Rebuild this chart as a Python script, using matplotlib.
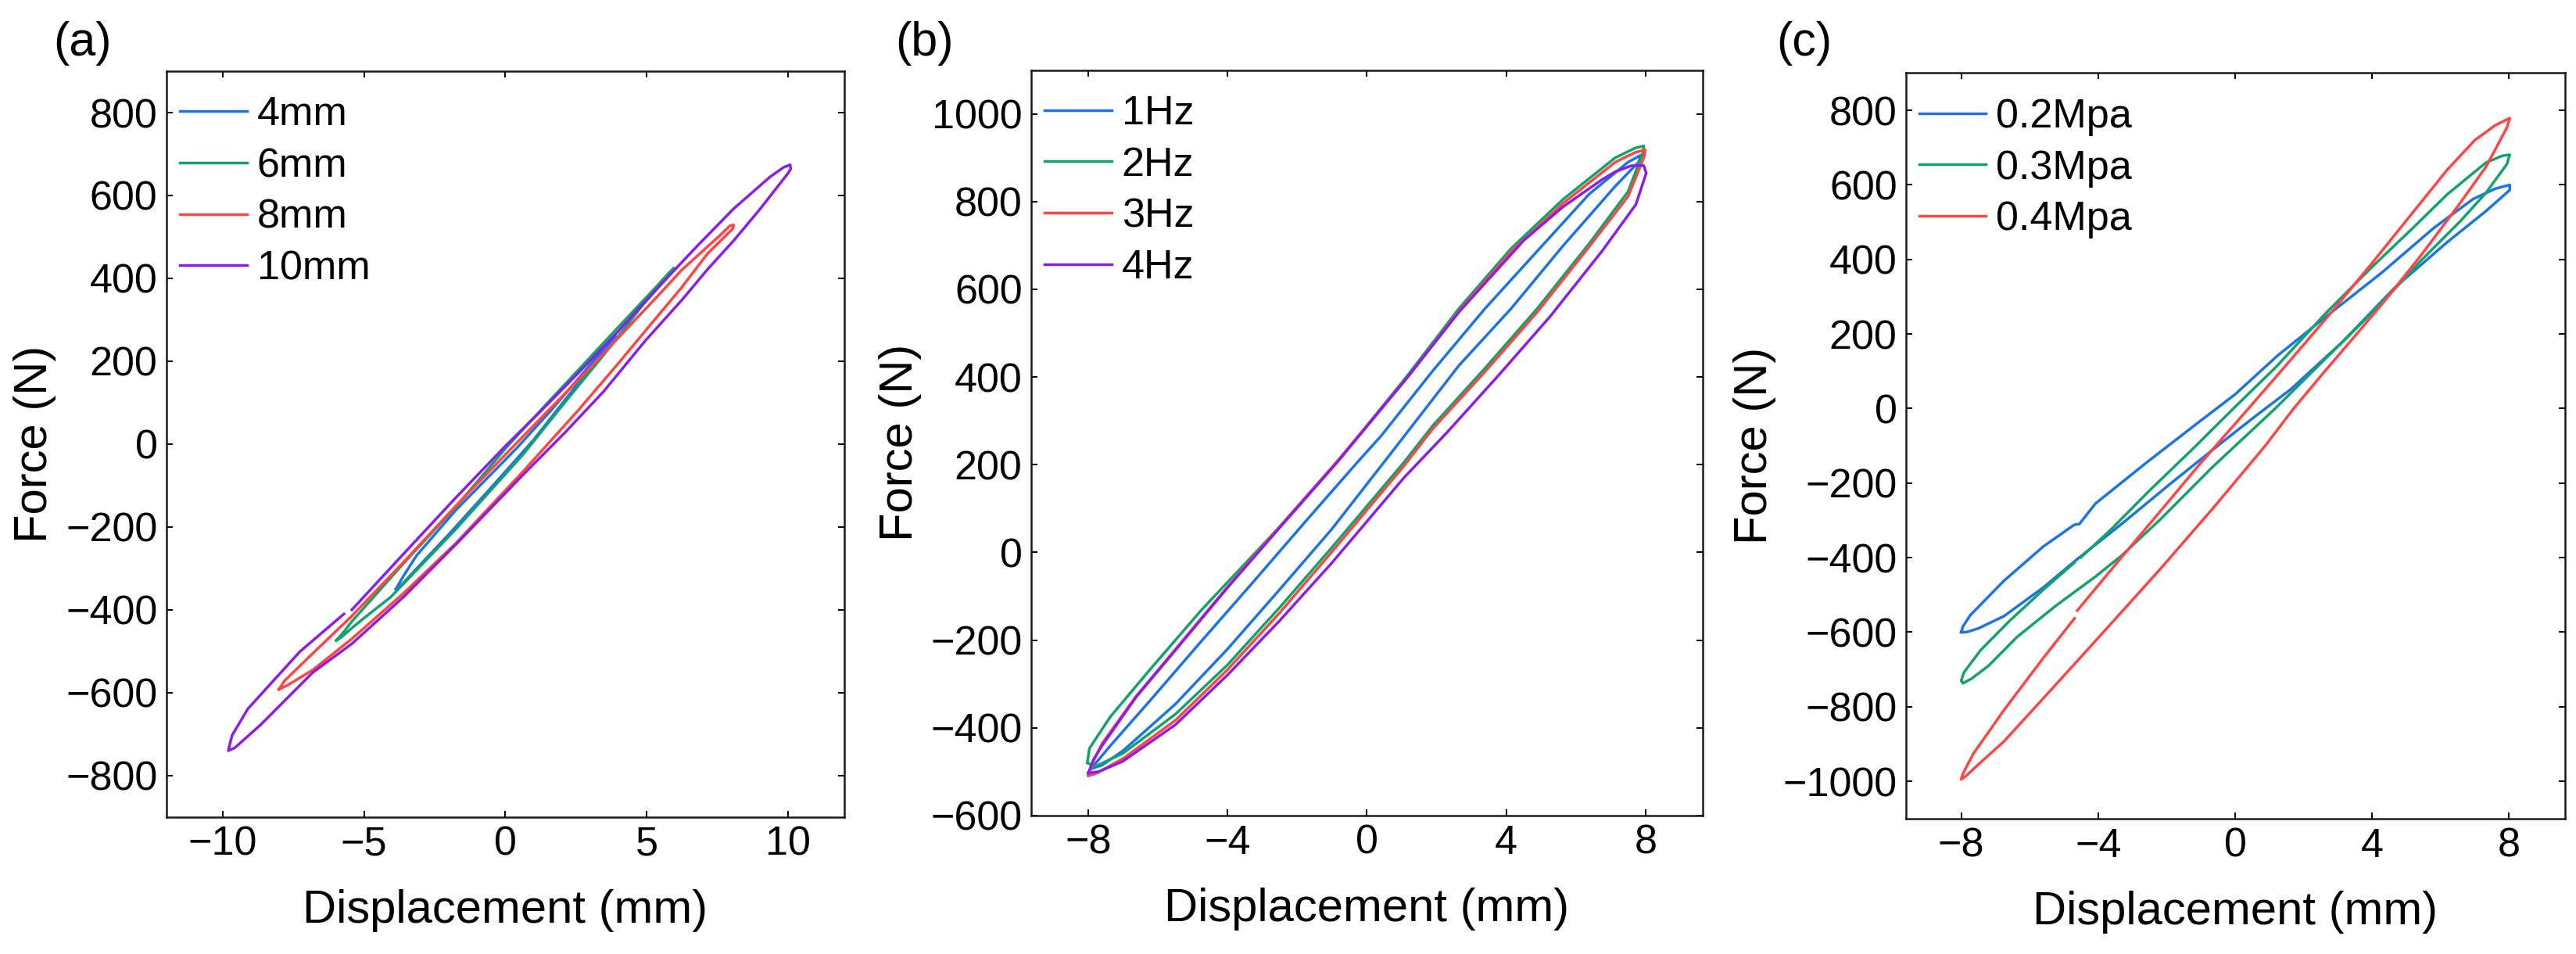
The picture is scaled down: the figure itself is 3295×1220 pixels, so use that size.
import matplotlib

matplotlib.use("Agg")
import matplotlib.pyplot as plt

plt.rcParams["font.family"] = ["Liberation Sans", "DejaVu Sans"]

BLUE = "#1b74e6"
GREEN = "#12a36b"
RED = "#ff4444"
PURPLE = "#8a1cf0"

# ---- panel (a): amplitude ----
A_LABELS = ["4mm", "6mm", "8mm", "10mm"]
A_4MM_X = [-3.87, -3.6, -3.14, -1.76, 0.4, 1.6, 2.8, 3.6, 3.85, 3.9,
           3.8, 3.3, 2.5, 1.0, -0.5, -2.0, -3.2, -3.7, -3.87]
A_4MM_Y = [-350, -318, -269, -160, -10, 80, 175, 240, 258, 262,
           252, 205, 140, 10, -105, -218, -305, -342, -350]
A_6MM_X = [-5.98, -5.7, -5.43, -3.6, -1.76, 0.08, 1.19, 2.56, 3.94, 5.32, 5.8, 5.97,
           5.87, 5.5, 4.86, 3.48, 2.1, 0.63, -1.76, -4.05, -5.0, -5.43, -5.8, -5.98]
A_6MM_Y = [-474, -452, -428, -288, -152, -5, 77, 177, 278, 378, 414, 425,
           414, 385, 335, 215, 100, -25, -206, -369, -420, -444, -466, -474]
A_8MM_X = [-8.01, -7.82, -6.81, -5.43, -3.6, -1.76, 0.08, 1.65, 3.02, 4.39, 5.5, 6.24, 7.62, 7.95, 8.08,
           8.04, 7.16, 6.24, 5.32, 3.94, 2.56, 1.9, 0.63, -1.76, -3.6, -5.43, -6.81, -7.73, -8.01]
A_8MM_Y = [-592, -572, -505, -415, -285, -150, -20, 90, 185, 285, 365, 420, 505, 527, 529,
           519, 460, 378, 303, 190, 80, 30, -66, -240, -360, -470, -545, -583, -592]
A_10MM_X = [-5.43, -3.6, -1.76, 0.0, 1.19, 2.56, 3.94, 4.96, 5.78, 6.79, 8.08, 9.37, 9.85, 10.08,
            10.1, 10.01, 9.0, 8.08, 7.16, 6.24, 4.96, 3.48, 2.1, 0.63, -1.76, -3.6, -5.43, -6.81,
            -7.73, -8.65, -9.57, -9.8, -9.75, -9.66, -9.11, -8.19, -7.27, -5.71]
A_10MM_Y = [-400, -265, -130, -5, 75, 170, 268, 345, 405, 478, 568, 645, 668, 674,
            664, 654, 566, 491, 422, 347, 250, 127, 27, -74, -243, -369, -482, -551,
            -614, -677, -733, -740, -725, -702, -639, -570, -501, -410]

# ---- panel (b): frequency ----
B_LABELS = ["1Hz", "2Hz", "3Hz", "4Hz"]
B_1HZ_X = [-7.93, -7.37, -6.25, -4.76, -3.26, -1.77, -0.27, 0.4, 1.89, 3.39, 4.89, 6.38, 7.5, 7.87,
           7.8, 7.13, 5.63, 4.14, 2.64, 0.63, -1.02, -2.51, -4.01, -5.5, -7.0, -7.6, -7.93]
B_1HZ_Y = [-494, -441, -340, -203, -67, 70, 206, 265, 414, 556, 687, 817, 890, 906,
           890, 835, 699, 556, 426, 220, 52, -85, -221, -346, -452, -485, -494]
B_2HZ_X = [-8.03, -7.97, -7.37, -6.25, -4.76, -2.51, -0.87, -0.35, 1.15, 2.64, 4.14, 5.63, 7.13, 7.7, 7.95,
           7.93, 7.87, 7.5, 6.38, 4.89, 3.39, 1.89, 1.07, -1.02, -2.51, -4.01, -5.5, -7.0, -7.8, -8.03]
B_2HZ_Y = [-480, -447, -375, -269, -132, 58, 206, 255, 402, 556, 693, 805, 900, 922, 927,
           912, 900, 823, 704, 556, 420, 289, 206, 10, -126, -257, -369, -458, -488, -480]
B_3HZ_X = [-8.0, -7.85, -7.6, -6.63, -5.5, -4.01, -2.51, -0.87, 1.15, 2.64, 4.14, 5.63, 7.13, 7.7, 7.99,
           7.97, 7.9, 7.5, 6.38, 4.89, 3.39, 1.89, 1.07, -1.02, -2.51, -4.01, -5.5, -7.0, -7.8, -8.0]
B_3HZ_Y = [-509, -475, -435, -328, -221, -79, 58, 206, 398, 550, 686, 796, 890, 912, 918,
           905, 890, 812, 697, 548, 412, 282, 198, 0, -138, -268, -383, -470, -505, -509]
B_4HZ_X = [-8.0, -7.85, -7.6, -6.63, -5.5, -4.01, -2.51, -0.87, 1.15, 2.64, 4.51, 5.63, 6.75, 7.13, 7.6, 7.95,
           8.02, 7.72, 6.75, 5.26, 3.76, 2.27, 1.07, -1.02, -2.51, -4.01, -5.5, -7.0, -7.7, -8.0]
B_4HZ_Y = [-503, -472, -440, -330, -223, -81, 56, 204, 398, 548, 712, 788, 850, 868, 882, 882,
           865, 793, 687, 538, 402, 271, 171, -25, -156, -280, -393, -476, -500, -503]

# ---- panel (c): pressure ----
C_LABELS = ["0.2Mpa", "0.3Mpa", "0.4Mpa"]
C_02_X = [-8.0, -7.95, -7.74, -6.75, -5.6, -4.7, -4.55, -4.08, -2.56, -1.04, 0.0, 1.24, 2.77, 4.29, 5.81,
          6.95, 7.6, 8.02, 8.02, 7.33, 6.19, 4.67, 3.15, 1.63, 0.6, -0.4, -1.8, -3.32, -4.69, -5.6, -6.75,
          -7.5, -7.85, -8.0]
C_02_Y = [-600, -585, -555, -462, -370, -312, -310, -255, -143, -35, 38, 142, 255, 365, 485,
          562, 590, 600, 586, 530, 446, 325, 180, 52, -20, -92, -195, -310, -410, -480, -557,
          -590, -600, -600]
C_03_X = [-4.5, -3.63, -2.5, -1.2, -0.05, 1.2, 2.65, 4.0, 5.2, 6.2, 7.33, 7.8, 8.02,
          7.94, 7.33, 6.57, 5.43, 4.5, 3.68, 2.4, 1.17, -0.66, -2.18, -3.32, -4.08, -5.22, -6.37, -7.2,
          -7.7, -7.95, -8.0, -7.92, -7.43, -6.59, -5.6, -4.69]
C_03_Y = [-399, -325, -220, -105, 0, 112, 256, 380, 485, 575, 660, 678, 681,
          656, 579, 502, 397, 305, 228, 112, 0, -157, -297, -395, -451, -528, -613, -690,
          -725, -737, -730, -708, -648, -570, -486, -413]
C_04_X = [-4.61, -3.47, -2.18, -1.04, 0.39, 1.6, 2.79, 4.0, 5.05, 6.19, 7.0, 7.6, 8.02,
          7.94, 7.33, 6.57, 5.43, 4.29, 3.68, 2.5, 1.71, 0.87, -0.66, -2.18, -3.7, -5.22, -6.75, -7.5,
          -7.85, -8.0, -7.95, -7.66, -6.75, -5.6, -4.69]
C_04_Y = [-542, -416, -275, -150, 0, 128, 256, 390, 510, 640, 720, 760, 779,
          754, 649, 551, 411, 280, 214, 87, 0, -101, -269, -430, -585, -739, -893, -955,
          -985, -995, -980, -928, -809, -669, -563]

W, H = 3295, 1220
TICK_FS = 37.5
LABEL_FS = 43
LW = 2.5


def style_axes(ax, xlim, xticks, ylim, yticks, ylab_x):
    ax.set_xlim(*xlim)
    ax.set_ylim(*ylim)
    ax.set_xticks(xticks)
    ax.set_yticks(yticks)
    ax.tick_params(axis="both", direction="in", top=True, right=True,
                   length=6, width=1.4, labelsize=TICK_FS, pad=8)
    for s in ax.spines.values():
        s.set_linewidth(1.8)
        s.set_color("#1a1a1a")
    ax.set_xlabel("Displacement (mm)", fontsize=LABEL_FS, va="center")
    ax.xaxis.set_label_coords(0.5, -0.126)
    ax.set_ylabel("Force (N)", fontsize=LABEL_FS, va="center")
    ax.yaxis.set_label_coords(ylab_x, 0.5)
    ax.legend(loc="upper left", bbox_to_anchor=(0.02, 0.967), frameon=False,
              fontsize=TICK_FS, handlelength=1.65, handletextpad=0.25,
              labelspacing=0.32, borderpad=0, borderaxespad=0)


fig = plt.figure(figsize=(W / 100, H / 100), dpi=100)

ax_a = fig.add_axes([0.0645, 0.1436, 0.2633, 0.7818])
for xs, ys, c, lab in zip([A_4MM_X, A_6MM_X, A_8MM_X, A_10MM_X],
                          [A_4MM_Y, A_6MM_Y, A_8MM_Y, A_10MM_Y],
                          [BLUE, GREEN, RED, PURPLE], A_LABELS):
    ax_a.plot(xs, ys, color=c, lw=LW, label=lab)
style_axes(ax_a, (-12, 12), [-10, -5, 0, 5, 10], (-900, 900), range(-800, 801, 200), -0.194)

ax_b = fig.add_axes([0.4002, 0.1452, 0.2609, 0.7814])
for xs, ys, c, lab in zip([B_1HZ_X, B_2HZ_X, B_3HZ_X, B_4HZ_X],
                          [B_1HZ_Y, B_2HZ_Y, B_3HZ_Y, B_4HZ_Y],
                          [BLUE, GREEN, RED, PURPLE], B_LABELS):
    ax_b.plot(xs, ys, color=c, lw=LW, label=lab)
style_axes(ax_b, (-9.65, 9.65), [-8, -4, 0, 4, 8], (-600, 1100), range(-600, 1001, 200), -0.194)

ax_c = fig.add_axes([0.7398, 0.1420, 0.2560, 0.7814])
for xs, ys, c, lab in zip([C_02_X, C_03_X, C_04_X],
                          [C_02_Y, C_03_Y, C_04_Y],
                          [BLUE, GREEN, RED], C_LABELS):
    ax_c.plot(xs, ys, color=c, lw=LW, label=lab)
style_axes(ax_c, (-9.62, 9.64), [-8, -4, 0, 4, 8], (-1100, 900), range(-1000, 801, 200), -0.229)

for lab, px, py in [("(a)", 105, 55), ("(b)", 1182, 56), ("(c)", 2308, 56)]:
    fig.text(px / W, 1 - py / H, lab, fontsize=44, ha="center", va="center")

fig.savefig("out.png", dpi=100)
